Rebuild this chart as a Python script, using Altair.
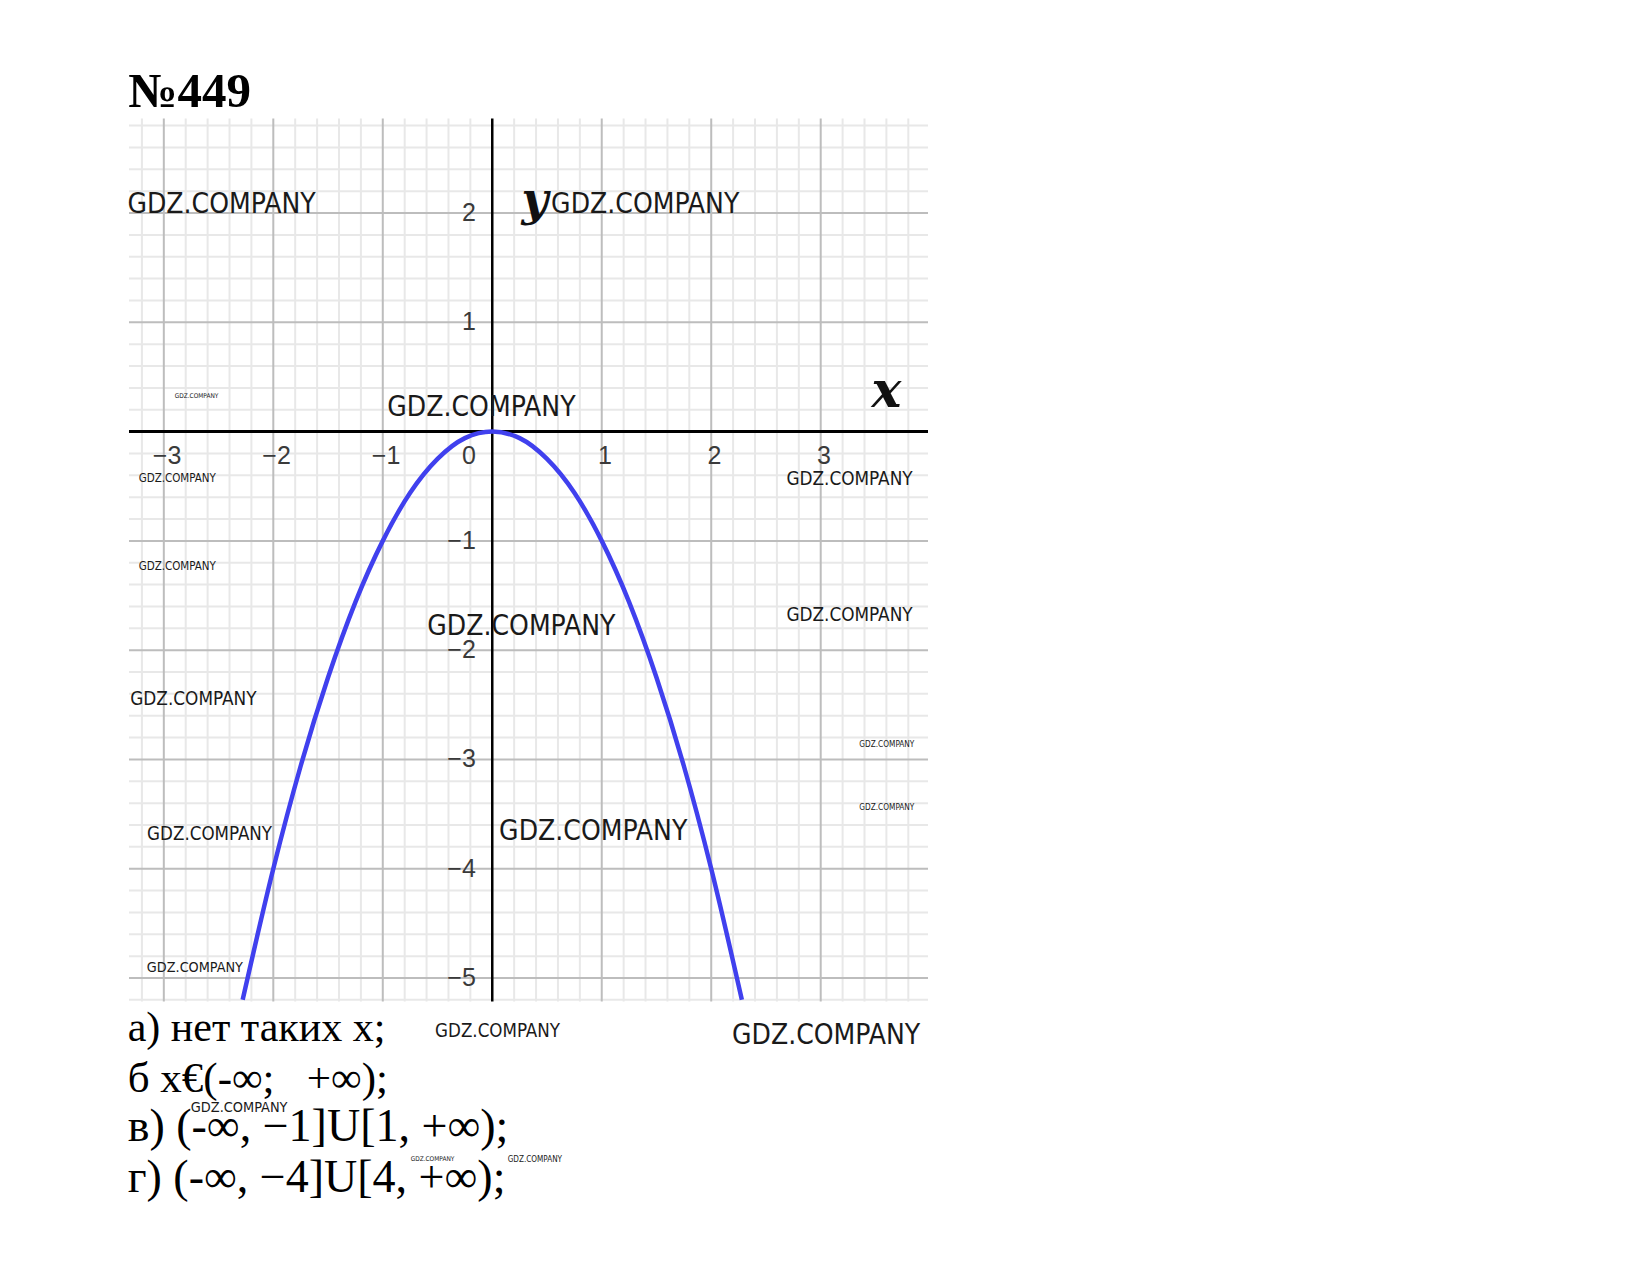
import altair as alt
import pandas as pd

# ---- data ----
x_domain = [-3.318, 3.98]
y_domain = [-5.215, 2.865]

minor_x = [-3.2, -2.8, -2.6, -2.4, -2.2, -1.8, -1.6, -1.4, -1.2, -0.8, -0.6, -0.4, -0.2,
           0.2, 0.4, 0.6, 0.8, 1.2, 1.4, 1.6, 1.8, 2.2, 2.4, 2.6, 2.8, 3.2, 3.4, 3.6, 3.8]
minor_y = [-5.2, -4.8, -4.6, -4.4, -4.2, -3.8, -3.6, -3.4, -3.2, -2.8, -2.6, -2.4, -2.2,
           -1.8, -1.6, -1.4, -1.2, -0.8, -0.6, -0.4, -0.2, 0.2, 0.4, 0.6, 0.8,
           1.2, 1.4, 1.6, 1.8, 2.2, 2.4, 2.6, 2.8]
major_x = [-3, -2, -1, 1, 2, 3]
major_y = [-5, -4, -3, -2, -1, 1, 2]

curve_x = [-2.28, -2.0, -1.75, -1.5, -1.25, -1.0, -0.75, -0.5, -0.25, 0.0,
           0.25, 0.5, 0.75, 1.0, 1.25, 1.5, 1.75, 2.0, 2.28]
curve_y = [-5.2, -4.0, -3.06, -2.25, -1.56, -1.0, -0.56, -0.25, -0.06, 0.0,
           -0.06, -0.25, -0.56, -1.0, -1.56, -2.25, -3.06, -4.0, -5.2]

xtick_vals = [-3, -2, -1, 1, 2, 3]
xtick_labels = ["−3", "−2", "−1", "1", "2", "3"]
ytick_vals = [2, 1, -1, -2, -3, -4, -5]
ytick_labels = ["2", "1", "−1", "−2", "−3", "−4", "−5"]

title_text = "№449"
answers = ["а) нет таких х;",
           "б x€(-∞;\u00a0\u00a0\u00a0+∞);",
           "в) (-∞, −1]U[1, +∞);",
           "г) (-∞, −4]U[4, +∞);"]
answer_y = [-5.575, -6.045, -6.495, -6.955]
answer_size = [42, 43, 46, 46]

wm_x = [-2.473, 1.397, -0.099, -2.701, -2.877, 3.263, -2.877, 3.263, 0.266, -2.730,
        3.604, 3.604, -2.582, 0.922, -2.716, 0.048, 3.049, -2.312, -0.546, 0.389]
wm_y = [2.077, 2.077, 0.214, 0.328, -0.433, -0.433, -1.240, -1.677, -1.791, -2.447,
        -2.866, -3.446, -3.683, -3.664, -4.909, -5.489, -5.527, -6.192, -6.658, -6.668]
wm_size = [28, 28, 28, 6.5, 11.5, 18.8, 11.5, 18.8, 28, 18.8,
           8.2, 8.2, 18.6, 28, 14.3, 18.6, 28, 14.4, 6.5, 8.1]

# ---- helpers ----
xs = alt.Scale(domain=x_domain, nice=False, zero=False)
ys = alt.Scale(domain=y_domain, nice=False, zero=False)


def X(f):
    return alt.X(f, type="quantitative", scale=xs, axis=None)


def Y(f):
    return alt.Y(f, type="quantitative", scale=ys, axis=None)


minor_v = alt.Chart(pd.DataFrame({"v": minor_x})).mark_rule(color="#e8e8e8", strokeWidth=2).encode(x=X("v"))
minor_h = alt.Chart(pd.DataFrame({"v": minor_y})).mark_rule(color="#e8e8e8", strokeWidth=2).encode(y=Y("v"))
major_v = alt.Chart(pd.DataFrame({"v": major_x})).mark_rule(color="#bdbdbd", strokeWidth=2).encode(x=X("v"))
major_h = alt.Chart(pd.DataFrame({"v": major_y})).mark_rule(color="#bdbdbd", strokeWidth=2).encode(y=Y("v"))
axis_v = alt.Chart(pd.DataFrame({"v": [0]})).mark_rule(color="#000000", strokeWidth=2.5).encode(x=X("v"))
axis_h = alt.Chart(pd.DataFrame({"v": [0]})).mark_rule(color="#000000", strokeWidth=3).encode(y=Y("v"))

curve = alt.Chart(pd.DataFrame({"x": curve_x, "y": curve_y})).mark_line(
    color="#4040ee", strokeWidth=4.5, interpolate="monotone", clip=True
).encode(x=X("x"), y=Y("y"), order="x:Q")

xt = alt.Chart(pd.DataFrame({"x": [v + 0.03 for v in xtick_vals], "y": [-0.222] * len(xtick_vals),
                             "t": xtick_labels})).mark_text(
    font="Liberation Sans", fontSize=25, color="#3a3a3a", align="center", baseline="middle"
).encode(x=X("x"), y=Y("y"), text="t:N")

zero_lbl = alt.Chart(pd.DataFrame({"x": [-0.15], "y": [-0.222], "t": ["0"]})).mark_text(
    font="Liberation Sans", fontSize=25, color="#3a3a3a", align="right", baseline="middle"
).encode(x=X("x"), y=Y("y"), text="t:N")

yt = alt.Chart(pd.DataFrame({"x": [-0.15] * len(ytick_vals), "y": ytick_vals, "t": ytick_labels})).mark_text(
    font="Liberation Sans", fontSize=25, color="#3a3a3a", align="right", baseline="middle"
).encode(x=X("x"), y=Y("y"), text="t:N")

ylab = alt.Chart(pd.DataFrame({"x": [0.39], "y": [2.11], "t": ["y"]})).mark_text(
    font="DejaVu Serif", fontSize=46, fontStyle="italic", fontWeight="bold", color="#111",
    align="center", baseline="middle"
).encode(x=X("x"), y=Y("y"), text="t:N")

xlab = alt.Chart(pd.DataFrame({"x": [3.6], "y": [0.36], "t": ["x"]})).mark_text(
    font="DejaVu Serif", fontSize=50, fontStyle="italic", fontWeight="bold", color="#111",
    align="center", baseline="middle"
).encode(x=X("x"), y=Y("y"), text="t:N")

title = alt.Chart(pd.DataFrame({"x": [-3.324], "y": [2.973], "t": [title_text]})).mark_text(
    font="Liberation Serif", fontSize=49, fontWeight="bold", color="#000",
    align="left", baseline="alphabetic"
).encode(x=X("x"), y=Y("y"), text="t:N")

ans = alt.Chart(pd.DataFrame({"x": [-3.33] * len(answers), "y": answer_y, "t": answers,
                              "s": answer_size})).mark_text(
    font="Liberation Serif", color="#000", align="left", baseline="alphabetic"
).encode(x=X("x"), y=Y("y"), text="t:N", size=alt.Size("s:Q", scale=None, legend=None))

wm = alt.Chart(pd.DataFrame({"x": wm_x, "y": wm_y, "s": wm_size,
                             "t": ["GDZ.COMPANY"] * len(wm_x)})).mark_text(
    font="Liberation Sans Narrow, DejaVu Sans Condensed, sans-serif", color="#1a1a1a",
    align="center", baseline="middle"
).encode(x=X("x"), y=Y("y"), text="t:N", size=alt.Size("s:Q", scale=None, legend=None))

chart = alt.layer(
    minor_v, minor_h, major_v, major_h, axis_v, axis_h, curve,
    xt, zero_lbl, yt, ylab, xlab, title, ans, wm
).properties(
    width=799, height=883,
    autosize=alt.AutoSizeParams(type="none"),
    padding={"left": 121, "top": 110.5, "right": 300, "bottom": 250},
    background="white",
).configure_view(stroke=None)

chart.save("out.html", embed_options={"renderer": "svg", "actions": False})
